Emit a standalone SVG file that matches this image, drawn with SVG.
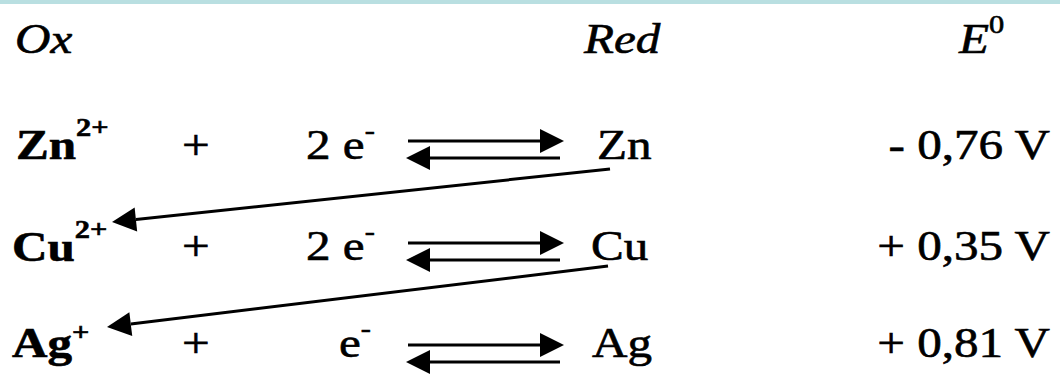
<svg xmlns="http://www.w3.org/2000/svg" width="1060" height="377" viewBox="0 0 1060 377">
<style>
text{font-family:"Liberation Serif","Times New Roman",serif;font-size:42px;fill:#000;stroke:#000;stroke-width:0.6}
.it{font-style:italic}
.b{font-weight:bold}
.sup{font-size:26px}
.ln{stroke:#000;stroke-width:3;fill:none}
</style>
<defs>
<marker id="ah" markerUnits="userSpaceOnUse" markerWidth="26" markerHeight="26" refX="0" refY="12" orient="auto" overflow="visible">
<path d="M0,0 L24,12 L0,24 Z" fill="#000"/>
</marker>
</defs>
<rect x="0" y="0" width="1060" height="377" fill="#fff"/>
<rect x="0" y="0" width="1060" height="4" fill="#b9dfe1"/>
<g id="headers">
<text class="it" transform="translate(15,53) scale(1.17,1)">Ox</text>
<text class="it" transform="translate(584,53) scale(1.17,1)">Red</text>
<text class="it" transform="translate(959,53) scale(1.17,1)">E<tspan class="sup" dy="-20" font-style="normal">0</tspan></text>
</g>
<g id="row-zn">
<text class="b" transform="translate(16,159) scale(1.17,1)">Zn<tspan class="sup" dy="-23">2+</tspan></text>
<text transform="translate(182,159) scale(1.17,1)">+</text>
<text transform="translate(306,159) scale(1.17,1)">2 e<tspan class="sup" dy="-20">-</tspan></text>
<text transform="translate(597,159) scale(1.17,1)">Zn</text>
<text transform="translate(1050,159) scale(1.17,1)" text-anchor="end">- 0,76 V</text>
</g>
<g id="row-cu">
<text class="b" transform="translate(12,261) scale(1.17,1)">Cu<tspan class="sup" dy="-23">2+</tspan></text>
<text transform="translate(182,260) scale(1.17,1)">+</text>
<text transform="translate(306,260) scale(1.17,1)">2 e<tspan class="sup" dy="-20">-</tspan></text>
<text transform="translate(591,260) scale(1.17,1)">Cu</text>
<text transform="translate(1050,260) scale(1.17,1)" text-anchor="end">+ 0,35 V</text>
</g>
<g id="row-ag">
<text class="b" transform="translate(12,357) scale(1.17,1)">Ag<tspan class="sup" dy="-16">+</tspan></text>
<text transform="translate(182,357) scale(1.17,1)">+</text>
<text transform="translate(339,357) scale(1.17,1)">e<tspan class="sup" dy="-20">-</tspan></text>
<text transform="translate(592,357) scale(1.17,1)">Ag</text>
<text transform="translate(1050,357) scale(1.17,1)" text-anchor="end">+ 0,81 V</text>
</g>
<g id="connectors">
<line class="ln" x1="408" y1="141" x2="540" y2="141" marker-end="url(#ah)"/>
<line class="ln" x1="560" y1="158" x2="430" y2="158" marker-end="url(#ah)"/>
<line class="ln" x1="408" y1="243" x2="540" y2="243" marker-end="url(#ah)"/>
<line class="ln" x1="560" y1="260" x2="430" y2="260" marker-end="url(#ah)"/>
<line class="ln" x1="408" y1="345" x2="540" y2="345" marker-end="url(#ah)"/>
<line class="ln" x1="560" y1="362" x2="430" y2="362" marker-end="url(#ah)"/>
<line class="ln" x1="610" y1="169" x2="135.9" y2="219.5" marker-end="url(#ah)"/>
<line class="ln" x1="608" y1="266" x2="130.8" y2="324.1" marker-end="url(#ah)"/>
</g>
</svg>
